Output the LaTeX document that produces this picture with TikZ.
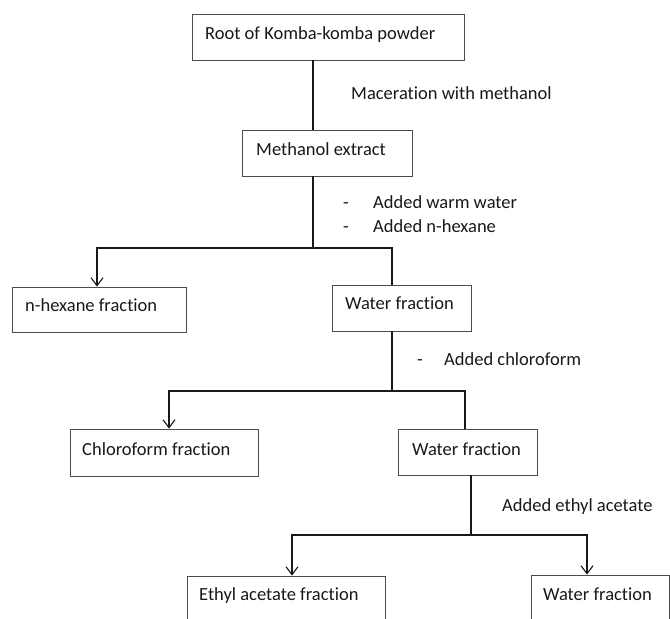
\documentclass[tikz,border=0pt]{standalone}
\usepackage{fontspec}
\setmainfont[Ligatures={NoCommon}]{Carlito}
\usetikzlibrary{arrows.meta}
\begin{document}
\begin{tikzpicture}[x=1pt,y=-1pt,
 box/.style={draw=black!70, line width=0.8pt, inner sep=0pt, rectangle},
 lbl/.style={anchor=west, inner sep=0pt, text height=12pt, text depth=0pt, font=\fontsize{18.5}{20}\selectfont, text=black!90},
 conn/.style={line width=1.1pt, black!90},
 arr/.style={conn, -{Straight Barb[length=8pt,width=12pt,line width=1.1pt]}}
]
\useasboundingbox (0,0) rectangle (670,619);
\clip (0,0) rectangle (670,619);
\fill[white] (0,0) rectangle (670,619);

\newcommand\mybox[5]{\node[box, minimum width={#4-#2}, minimum height={#5-#3}] (#1) at ({(#2+#4)/2},{(#3+#5)/2}) {};}

% boxes
\mybox{root}{192}{14}{464}{60}
\mybox{meth}{242}{130}{412}{176}
\mybox{hex}{12}{287}{186}{332}
\mybox{wa}{332}{285}{471}{331}
\mybox{chl}{70}{429}{258}{476}
\mybox{wb}{398}{429}{537}{475}
\mybox{eth}{187}{576}{385}{640}
\mybox{wc}{531}{575}{669}{640}

% box texts
\node[lbl] (troot) at (205,33) {Root of Komba-komba powder};
\node[lbl] (tmeth) at (256,149) {Methanol extract};
\node[lbl] (thex) at (25,305) {n-hexane fraction};
\node[lbl] (twa) at (345,303) {Water fraction};
\node[lbl] (tchl) at (82,449) {Chloroform fraction};
\node[lbl] (twb) at (412,449) {Water fraction};
\node[lbl] (teth) at (199,594) {Ethyl acetate fraction};
\node[lbl] (twc) at (543,594) {Water fraction};

% step labels
\node[lbl] (s1) at (351,93) {Maceration with methanol};
\node[lbl] (d2a) at (343,202) {-};
\node[lbl] (s2a) at (373,202) {Added warm water};
\node[lbl] (d2b) at (343,226) {-};
\node[lbl] (s2b) at (373,226) {Added n-hexane};
\node[lbl] (d3) at (417,359) {-};
\node[lbl] (s3) at (444,359) {Added chloroform};
\node[lbl] (s4) at (502,505) {Added ethyl acetate};

% junctions
\coordinate (j1) at (313,248);
\coordinate (j1l) at (97,248);
\coordinate (j1r) at (392,248);
\coordinate (j2) at (392,391);
\coordinate (j2l) at (169,391);
\coordinate (j2r) at (465,391);
\coordinate (j3) at (471,535);
\coordinate (j3l) at (292,535);
\coordinate (j3r) at (587,535);

% connectors
\draw[conn] (root.south -| j1) -- (meth.north -| j1);
\draw[conn] (meth.south -| j1) -- (j1);
\draw[arr] (wa.north -| j1r) -- (j1r) -- (j1l) -- (hex.north -| j1l);
\draw[conn] (wa.south -| j2) -- (j2);
\draw[arr] (wb.north -| j2r) -- (j2r) -- (j2l) -- (chl.north -| j2l);
\draw[conn] (wb.south -| j3) -- (j3);
\draw[arr] (j3) -- (j3l) -- (eth.north -| j3l);
\draw[arr] (j3) -- (j3r) -- (wc.north -| j3r);
\end{tikzpicture}
\end{document}
